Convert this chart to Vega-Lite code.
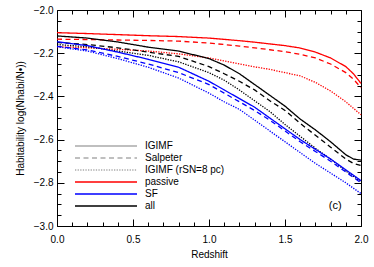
{
  "$schema": "https://vega.github.io/schema/vega-lite/v6.json",
  "width": 304,
  "height": 216,
  "autosize": {"type": "none"},
  "padding": {"left": 57, "top": 10, "right": 13, "bottom": 41},
  "background": "white",
  "config": {
    "view": {"stroke": null},
    "font": "Liberation Sans",
    "axis": {
      "grid": false,
      "domainColor": "black",
      "domainWidth": 1,
      "tickColor": "black",
      "tickWidth": 1,
      "labelColor": "black",
      "titleColor": "black",
      "labelFont": "Liberation Sans",
      "titleFont": "Liberation Sans",
      "labelFontSize": 10,
      "titleFontSize": 10,
      "titleFontWeight": "normal",
      "labelOverlap": false,
      "labelFlush": false
    },
    "legend": {
      "symbolBaseStrokeColor": "#aaaaaa",
      "labelFont": "Liberation Sans",
      "labelFontSize": 10,
      "labelColor": "black"
    }
  },
  "datasets": {
    "curves": [
      {"pop": "passive", "imf": "IGIMF", "z": 0.0, "h": -2.105},
      {"pop": "passive", "imf": "IGIMF", "z": 0.2, "h": -2.109},
      {"pop": "passive", "imf": "IGIMF", "z": 0.4, "h": -2.114},
      {"pop": "passive", "imf": "IGIMF", "z": 0.6, "h": -2.119},
      {"pop": "passive", "imf": "IGIMF", "z": 0.8, "h": -2.123},
      {"pop": "passive", "imf": "IGIMF", "z": 1.0, "h": -2.130},
      {"pop": "passive", "imf": "IGIMF", "z": 1.1, "h": -2.136},
      {"pop": "passive", "imf": "IGIMF", "z": 1.2, "h": -2.142},
      {"pop": "passive", "imf": "IGIMF", "z": 1.3, "h": -2.149},
      {"pop": "passive", "imf": "IGIMF", "z": 1.4, "h": -2.157},
      {"pop": "passive", "imf": "IGIMF", "z": 1.5, "h": -2.165},
      {"pop": "passive", "imf": "IGIMF", "z": 1.6, "h": -2.176},
      {"pop": "passive", "imf": "IGIMF", "z": 1.7, "h": -2.195},
      {"pop": "passive", "imf": "IGIMF", "z": 1.8, "h": -2.222},
      {"pop": "passive", "imf": "IGIMF", "z": 1.9, "h": -2.262},
      {"pop": "passive", "imf": "IGIMF", "z": 1.95, "h": -2.295},
      {"pop": "passive", "imf": "IGIMF", "z": 2.0, "h": -2.340},

      {"pop": "passive", "imf": "Salpeter", "z": 0.0, "h": -2.135},
      {"pop": "passive", "imf": "Salpeter", "z": 0.2, "h": -2.137},
      {"pop": "passive", "imf": "Salpeter", "z": 0.4, "h": -2.139},
      {"pop": "passive", "imf": "Salpeter", "z": 0.6, "h": -2.141},
      {"pop": "passive", "imf": "Salpeter", "z": 0.8, "h": -2.144},
      {"pop": "passive", "imf": "Salpeter", "z": 1.0, "h": -2.153},
      {"pop": "passive", "imf": "Salpeter", "z": 1.1, "h": -2.160},
      {"pop": "passive", "imf": "Salpeter", "z": 1.2, "h": -2.167},
      {"pop": "passive", "imf": "Salpeter", "z": 1.3, "h": -2.175},
      {"pop": "passive", "imf": "Salpeter", "z": 1.4, "h": -2.184},
      {"pop": "passive", "imf": "Salpeter", "z": 1.5, "h": -2.193},
      {"pop": "passive", "imf": "Salpeter", "z": 1.6, "h": -2.205},
      {"pop": "passive", "imf": "Salpeter", "z": 1.7, "h": -2.222},
      {"pop": "passive", "imf": "Salpeter", "z": 1.8, "h": -2.250},
      {"pop": "passive", "imf": "Salpeter", "z": 1.9, "h": -2.290},
      {"pop": "passive", "imf": "Salpeter", "z": 1.95, "h": -2.320},
      {"pop": "passive", "imf": "Salpeter", "z": 2.0, "h": -2.360},

      {"pop": "passive", "imf": "IGIMF (rSN=8 pc)", "z": 0.0, "h": -2.170},
      {"pop": "passive", "imf": "IGIMF (rSN=8 pc)", "z": 0.2, "h": -2.175},
      {"pop": "passive", "imf": "IGIMF (rSN=8 pc)", "z": 0.4, "h": -2.182},
      {"pop": "passive", "imf": "IGIMF (rSN=8 pc)", "z": 0.6, "h": -2.190},
      {"pop": "passive", "imf": "IGIMF (rSN=8 pc)", "z": 0.8, "h": -2.203},
      {"pop": "passive", "imf": "IGIMF (rSN=8 pc)", "z": 1.0, "h": -2.222},
      {"pop": "passive", "imf": "IGIMF (rSN=8 pc)", "z": 1.1, "h": -2.236},
      {"pop": "passive", "imf": "IGIMF (rSN=8 pc)", "z": 1.2, "h": -2.250},
      {"pop": "passive", "imf": "IGIMF (rSN=8 pc)", "z": 1.3, "h": -2.263},
      {"pop": "passive", "imf": "IGIMF (rSN=8 pc)", "z": 1.4, "h": -2.275},
      {"pop": "passive", "imf": "IGIMF (rSN=8 pc)", "z": 1.5, "h": -2.290},
      {"pop": "passive", "imf": "IGIMF (rSN=8 pc)", "z": 1.6, "h": -2.305},
      {"pop": "passive", "imf": "IGIMF (rSN=8 pc)", "z": 1.7, "h": -2.335},
      {"pop": "passive", "imf": "IGIMF (rSN=8 pc)", "z": 1.8, "h": -2.375},
      {"pop": "passive", "imf": "IGIMF (rSN=8 pc)", "z": 1.9, "h": -2.425},
      {"pop": "passive", "imf": "IGIMF (rSN=8 pc)", "z": 2.0, "h": -2.485},

      {"pop": "all", "imf": "IGIMF", "z": 0.0, "h": -2.120},
      {"pop": "all", "imf": "IGIMF", "z": 0.2, "h": -2.130},
      {"pop": "all", "imf": "IGIMF", "z": 0.4, "h": -2.148},
      {"pop": "all", "imf": "IGIMF", "z": 0.6, "h": -2.172},
      {"pop": "all", "imf": "IGIMF", "z": 0.8, "h": -2.190},
      {"pop": "all", "imf": "IGIMF", "z": 1.0, "h": -2.225},
      {"pop": "all", "imf": "IGIMF", "z": 1.1, "h": -2.255},
      {"pop": "all", "imf": "IGIMF", "z": 1.2, "h": -2.295},
      {"pop": "all", "imf": "IGIMF", "z": 1.3, "h": -2.345},
      {"pop": "all", "imf": "IGIMF", "z": 1.4, "h": -2.395},
      {"pop": "all", "imf": "IGIMF", "z": 1.5, "h": -2.445},
      {"pop": "all", "imf": "IGIMF", "z": 1.6, "h": -2.505},
      {"pop": "all", "imf": "IGIMF", "z": 1.7, "h": -2.555},
      {"pop": "all", "imf": "IGIMF", "z": 1.8, "h": -2.610},
      {"pop": "all", "imf": "IGIMF", "z": 1.9, "h": -2.670},
      {"pop": "all", "imf": "IGIMF", "z": 1.95, "h": -2.690},
      {"pop": "all", "imf": "IGIMF", "z": 2.0, "h": -2.695},

      {"pop": "all", "imf": "Salpeter", "z": 0.0, "h": -2.150},
      {"pop": "all", "imf": "Salpeter", "z": 0.2, "h": -2.160},
      {"pop": "all", "imf": "Salpeter", "z": 0.4, "h": -2.175},
      {"pop": "all", "imf": "Salpeter", "z": 0.6, "h": -2.195},
      {"pop": "all", "imf": "Salpeter", "z": 0.8, "h": -2.215},
      {"pop": "all", "imf": "Salpeter", "z": 1.0, "h": -2.262},
      {"pop": "all", "imf": "Salpeter", "z": 1.1, "h": -2.295},
      {"pop": "all", "imf": "Salpeter", "z": 1.2, "h": -2.330},
      {"pop": "all", "imf": "Salpeter", "z": 1.3, "h": -2.370},
      {"pop": "all", "imf": "Salpeter", "z": 1.4, "h": -2.420},
      {"pop": "all", "imf": "Salpeter", "z": 1.5, "h": -2.465},
      {"pop": "all", "imf": "Salpeter", "z": 1.6, "h": -2.525},
      {"pop": "all", "imf": "Salpeter", "z": 1.7, "h": -2.580},
      {"pop": "all", "imf": "Salpeter", "z": 1.8, "h": -2.635},
      {"pop": "all", "imf": "Salpeter", "z": 1.9, "h": -2.690},
      {"pop": "all", "imf": "Salpeter", "z": 1.95, "h": -2.710},
      {"pop": "all", "imf": "Salpeter", "z": 2.0, "h": -2.720},

      {"pop": "all", "imf": "IGIMF (rSN=8 pc)", "z": 0.0, "h": -2.160},
      {"pop": "all", "imf": "IGIMF (rSN=8 pc)", "z": 0.2, "h": -2.170},
      {"pop": "all", "imf": "IGIMF (rSN=8 pc)", "z": 0.4, "h": -2.190},
      {"pop": "all", "imf": "IGIMF (rSN=8 pc)", "z": 0.6, "h": -2.210},
      {"pop": "all", "imf": "IGIMF (rSN=8 pc)", "z": 0.8, "h": -2.240},
      {"pop": "all", "imf": "IGIMF (rSN=8 pc)", "z": 1.0, "h": -2.290},
      {"pop": "all", "imf": "IGIMF (rSN=8 pc)", "z": 1.1, "h": -2.325},
      {"pop": "all", "imf": "IGIMF (rSN=8 pc)", "z": 1.2, "h": -2.370},
      {"pop": "all", "imf": "IGIMF (rSN=8 pc)", "z": 1.3, "h": -2.420},
      {"pop": "all", "imf": "IGIMF (rSN=8 pc)", "z": 1.4, "h": -2.470},
      {"pop": "all", "imf": "IGIMF (rSN=8 pc)", "z": 1.5, "h": -2.530},
      {"pop": "all", "imf": "IGIMF (rSN=8 pc)", "z": 1.6, "h": -2.585},
      {"pop": "all", "imf": "IGIMF (rSN=8 pc)", "z": 1.7, "h": -2.640},
      {"pop": "all", "imf": "IGIMF (rSN=8 pc)", "z": 1.8, "h": -2.690},
      {"pop": "all", "imf": "IGIMF (rSN=8 pc)", "z": 1.9, "h": -2.745},
      {"pop": "all", "imf": "IGIMF (rSN=8 pc)", "z": 2.0, "h": -2.795},

      {"pop": "SF", "imf": "IGIMF", "z": 0.0, "h": -2.147},
      {"pop": "SF", "imf": "IGIMF", "z": 0.2, "h": -2.165},
      {"pop": "SF", "imf": "IGIMF", "z": 0.4, "h": -2.195},
      {"pop": "SF", "imf": "IGIMF", "z": 0.6, "h": -2.228},
      {"pop": "SF", "imf": "IGIMF", "z": 0.8, "h": -2.265},
      {"pop": "SF", "imf": "IGIMF", "z": 1.0, "h": -2.330},
      {"pop": "SF", "imf": "IGIMF", "z": 1.1, "h": -2.370},
      {"pop": "SF", "imf": "IGIMF", "z": 1.2, "h": -2.410},
      {"pop": "SF", "imf": "IGIMF", "z": 1.3, "h": -2.450},
      {"pop": "SF", "imf": "IGIMF", "z": 1.4, "h": -2.500},
      {"pop": "SF", "imf": "IGIMF", "z": 1.5, "h": -2.550},
      {"pop": "SF", "imf": "IGIMF", "z": 1.6, "h": -2.600},
      {"pop": "SF", "imf": "IGIMF", "z": 1.7, "h": -2.645},
      {"pop": "SF", "imf": "IGIMF", "z": 1.8, "h": -2.690},
      {"pop": "SF", "imf": "IGIMF", "z": 1.9, "h": -2.740},
      {"pop": "SF", "imf": "IGIMF", "z": 2.0, "h": -2.790},

      {"pop": "SF", "imf": "Salpeter", "z": 0.0, "h": -2.168},
      {"pop": "SF", "imf": "Salpeter", "z": 0.2, "h": -2.185},
      {"pop": "SF", "imf": "Salpeter", "z": 0.4, "h": -2.215},
      {"pop": "SF", "imf": "Salpeter", "z": 0.6, "h": -2.250},
      {"pop": "SF", "imf": "Salpeter", "z": 0.8, "h": -2.290},
      {"pop": "SF", "imf": "Salpeter", "z": 1.0, "h": -2.345},
      {"pop": "SF", "imf": "Salpeter", "z": 1.1, "h": -2.385},
      {"pop": "SF", "imf": "Salpeter", "z": 1.2, "h": -2.425},
      {"pop": "SF", "imf": "Salpeter", "z": 1.3, "h": -2.465},
      {"pop": "SF", "imf": "Salpeter", "z": 1.4, "h": -2.510},
      {"pop": "SF", "imf": "Salpeter", "z": 1.5, "h": -2.560},
      {"pop": "SF", "imf": "Salpeter", "z": 1.6, "h": -2.610},
      {"pop": "SF", "imf": "Salpeter", "z": 1.7, "h": -2.655},
      {"pop": "SF", "imf": "Salpeter", "z": 1.8, "h": -2.700},
      {"pop": "SF", "imf": "Salpeter", "z": 1.9, "h": -2.750},
      {"pop": "SF", "imf": "Salpeter", "z": 2.0, "h": -2.800},

      {"pop": "SF", "imf": "IGIMF (rSN=8 pc)", "z": 0.0, "h": -2.170},
      {"pop": "SF", "imf": "IGIMF (rSN=8 pc)", "z": 0.2, "h": -2.190},
      {"pop": "SF", "imf": "IGIMF (rSN=8 pc)", "z": 0.4, "h": -2.225},
      {"pop": "SF", "imf": "IGIMF (rSN=8 pc)", "z": 0.6, "h": -2.265},
      {"pop": "SF", "imf": "IGIMF (rSN=8 pc)", "z": 0.8, "h": -2.315},
      {"pop": "SF", "imf": "IGIMF (rSN=8 pc)", "z": 1.0, "h": -2.385},
      {"pop": "SF", "imf": "IGIMF (rSN=8 pc)", "z": 1.1, "h": -2.425},
      {"pop": "SF", "imf": "IGIMF (rSN=8 pc)", "z": 1.2, "h": -2.460},
      {"pop": "SF", "imf": "IGIMF (rSN=8 pc)", "z": 1.3, "h": -2.510},
      {"pop": "SF", "imf": "IGIMF (rSN=8 pc)", "z": 1.4, "h": -2.560},
      {"pop": "SF", "imf": "IGIMF (rSN=8 pc)", "z": 1.5, "h": -2.610},
      {"pop": "SF", "imf": "IGIMF (rSN=8 pc)", "z": 1.6, "h": -2.660},
      {"pop": "SF", "imf": "IGIMF (rSN=8 pc)", "z": 1.7, "h": -2.710},
      {"pop": "SF", "imf": "IGIMF (rSN=8 pc)", "z": 1.8, "h": -2.755},
      {"pop": "SF", "imf": "IGIMF (rSN=8 pc)", "z": 1.9, "h": -2.800},
      {"pop": "SF", "imf": "IGIMF (rSN=8 pc)", "z": 2.0, "h": -2.850}
    ]
  },
  "layer": [
    {
      "data": {"name": "curves"},
      "mark": {"type": "line"},
      "encoding": {
        "x": {
          "field": "z", "type": "quantitative",
          "scale": {"domain": [0, 2], "nice": false, "zero": false},
          "axis": {
            "orient": "bottom",
            "title": "Redshift",
            "values": [0, 0.1, 0.2, 0.3, 0.4, 0.5, 0.6, 0.7, 0.8, 0.9, 1.0, 1.1, 1.2, 1.3, 1.4, 1.5, 1.6, 1.7, 1.8, 1.9, 2.0],
            "labelExpr": "abs(datum.value*2-round(datum.value*2))<0.001 ? format(datum.value,'.1f') : ''",
            "tickSize": {"condition": {"test": "abs(datum.value*2-round(datum.value*2))<0.001", "value": -7}, "value": -4},
            "labelPadding": 15,
            "titlePadding": 2
          }
        },
        "y": {
          "field": "h", "type": "quantitative",
          "scale": {"domain": [-3, -2], "nice": false, "zero": false},
          "axis": {
            "orient": "left",
            "title": "Habitability log(Nhabi/N•))",
            "values": [-3.0, -2.95, -2.9, -2.85, -2.8, -2.75, -2.7, -2.65, -2.6, -2.55, -2.5, -2.45, -2.4, -2.35, -2.3, -2.25, -2.2, -2.15, -2.1, -2.05, -2.0],
            "labelExpr": "abs(datum.value*5-round(datum.value*5))<0.001 ? format(datum.value,'.1f') : ''",
            "tickSize": {"condition": {"test": "abs(datum.value*5-round(datum.value*5))<0.001", "value": -7}, "value": -4},
            "labelPadding": 11,
            "titlePadding": 8
          }
        },
        "color": {
          "field": "pop", "type": "nominal",
          "scale": {"domain": ["passive", "SF", "all"], "range": ["#ff0000", "#0000ff", "#000000"]},
          "legend": {
            "title": null, "orient": "none", "legendX": 17, "legendY": 167,
            "symbolType": "stroke", "symbolSize": 3844, "symbolStrokeWidth": 2,
            "symbolOpacity": 0.75, "clipHeight": 10, "rowPadding": 2,
            "labelOffset": 7, "padding": 0
          }
        },
        "strokeDash": {
          "field": "imf", "type": "nominal",
          "scale": {"domain": ["IGIMF", "Salpeter", "IGIMF (rSN=8 pc)"], "range": [[1, 0], [5, 3.5], [1.3, 1.3]]},
          "legend": {
            "title": null, "orient": "none", "legendX": 17, "legendY": 131,
            "symbolType": "stroke", "symbolSize": 3844, "symbolStrokeWidth": 1.5,
            "clipHeight": 10, "rowPadding": 2,
            "labelOffset": 7, "padding": 0
          }
        },
        "strokeWidth": {
          "field": "imf", "type": "nominal",
          "scale": {"domain": ["IGIMF", "Salpeter", "IGIMF (rSN=8 pc)"], "range": [1.3, 1.3, 1.8]},
          "legend": null
        }
      }
    },
    {
      "data": {"name": "curves"},
      "mark": {"type": "point", "opacity": 0},
      "encoding": {
        "x": {
          "field": "z", "type": "quantitative",
          "axis": {
            "orient": "top", "title": null, "labels": false,
            "values": [0, 0.1, 0.2, 0.3, 0.4, 0.5, 0.6, 0.7, 0.8, 0.9, 1.0, 1.1, 1.2, 1.3, 1.4, 1.5, 1.6, 1.7, 1.8, 1.9, 2.0],
            "tickSize": {"condition": {"test": "abs(datum.value*2-round(datum.value*2))<0.001", "value": -7}, "value": -4}
          }
        },
        "y": {
          "field": "h", "type": "quantitative",
          "axis": {
            "orient": "right", "title": null, "labels": false,
            "values": [-3.0, -2.95, -2.9, -2.85, -2.8, -2.75, -2.7, -2.65, -2.6, -2.55, -2.5, -2.45, -2.4, -2.35, -2.3, -2.25, -2.2, -2.15, -2.1, -2.05, -2.0],
            "tickSize": {"condition": {"test": "abs(datum.value*5-round(datum.value*5))<0.001", "value": -7}, "value": -4}
          }
        }
      }
    },
    {
      "data": {"values": [{"label": "(c)"}]},
      "mark": {"type": "text", "fontSize": 11, "font": "Liberation Sans", "color": "black"},
      "encoding": {
        "x": {"datum": 1.83, "type": "quantitative", "axis": null},
        "y": {"datum": -2.907, "type": "quantitative", "axis": null},
        "text": {"field": "label", "type": "nominal"}
      }
    }
  ],
  "resolve": {"axis": {"x": "independent", "y": "independent"}}
}
